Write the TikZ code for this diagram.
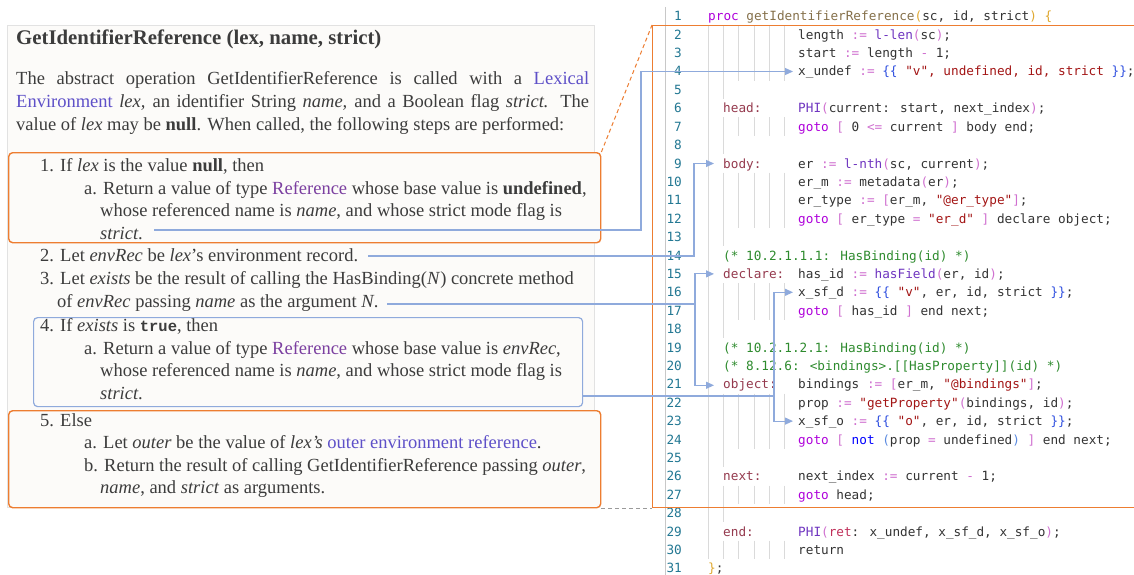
\documentclass[tikz,border=0pt]{standalone}
\usepackage{fontspec}
\setmainfont{Liberation Serif}
\setmonofont{Liberation Mono}
\newfontfamily\codefont{DejaVu Sans Mono}
\usetikzlibrary{arrows.meta}

% palette
\definecolor{txtc}{HTML}{3C3C3C}
\definecolor{linkc}{HTML}{5E50C8}
\definecolor{refc}{HTML}{7B3FA0}
\definecolor{orng}{HTML}{ED7D31}
\definecolor{bluel}{HTML}{8FAADC}
\definecolor{panelfill}{HTML}{FCFBF9}
\definecolor{panelline}{HTML}{E2E2E2}
\definecolor{gutter}{HTML}{C8C8C8}
\definecolor{guide}{HTML}{DADADA}
\definecolor{dashg}{HTML}{9A9A9A}
% code colours
\definecolor{cdef}{HTML}{333333}
\definecolor{lnc}{HTML}{237893}
\definecolor{ckw}{HTML}{AF00DB}
\definecolor{cop}{HTML}{D070D0}
\definecolor{cfn}{HTML}{6F35C0}
\definecolor{cst}{HTML}{A31515}
\definecolor{cbr}{HTML}{3050E0}
\definecolor{cgd}{HTML}{E0A830}
\definecolor{cnm}{HTML}{85704A}
\definecolor{clb}{HTML}{953A4E}
\definecolor{ccm}{HTML}{2E8B2E}
\definecolor{cbl}{HTML}{0000FF}
\definecolor{clbl}{HTML}{5A8AE0}
\definecolor{cret}{HTML}{C0305A}

\newcommand\ccKw[1]{\textcolor{ckw}{#1}}
\newcommand\ccOp[1]{\textcolor{cop}{#1}}
\newcommand\ccFn[1]{\textcolor{cfn}{#1}}
\newcommand\ccSt[1]{\textcolor{cst}{#1}}
\newcommand\ccBr[1]{\textcolor{cbr}{#1}}
\newcommand\ccGd[1]{\textcolor{cgd}{#1}}
\newcommand\ccNm[1]{\textcolor{cnm}{#1}}
\newcommand\ccBl[1]{\textcolor{cbl}{#1}}
\newcommand\ccLbl[1]{\textcolor{clbl}{#1}}
\newcommand\ccRt[1]{\textcolor{cret}{#1}}
\newcommand\monobold[1]{{\fontsize{15.5}{18}\selectfont\ttfamily\bfseries #1}}

% statement text of code line #1
\newcommand\codeln[2]{\node[code] (s#1) at (798,{20.8+(#1-1)*18.4}) {#2};}
% label / comment starting at the second column
\newcommand\codelab[2]{\node[code,text=clb] (lab#1) at (723,{20.8+(#1-1)*18.4}) {#2};}
\newcommand\codecmt[2]{\node[code,text=ccm] (cm#1) at (723,{20.8+(#1-1)*18.4}) {#2};}

\tikzset{
  txt/.style={anchor=base west, inner sep=0pt, text=txtc, font=\fontsize{18.5}{21}\selectfont},
  code/.style={anchor=base west, inner sep=0pt, text=cdef, font=\codefont\fontsize{12.7}{14}\selectfont},
  lno/.style={anchor=base east, inner sep=0pt, text=lnc, font=\codefont\fontsize{12.7}{14}\selectfont},
  panel/.style={draw=panelline, line width=0.8pt, fill=panelfill, inner sep=0pt, anchor=north west},
  obox/.style={draw=orng, line width=1.4pt, rounded corners=4pt, fill=panelfill, inner sep=0pt, anchor=north west},
  bbox/.style={draw=bluel, line width=1.2pt, rounded corners=4pt, fill=panelfill, inner sep=0pt, anchor=north west},
  codebox/.style={draw=orng, line width=1.4pt, inner sep=0pt, anchor=north west},
  conn/.style={draw=bluel, line width=1.1pt},
  arr/.style={conn, -{Triangle[length=8pt,width=7pt]}},
  guideline/.style={draw=guide, line width=0.8pt},
}

\begin{document}
\begin{tikzpicture}[x=1pt,y=-1pt]
\useasboundingbox (0,0) rectangle (1134,575);
\fill[white] (0,0) rectangle (1134,575);

% ---------- specification panel ----------
\node[panel, minimum width=587pt, minimum height=482pt] (pnl) at (7,25) {};
\node[obox, minimum width=592pt, minimum height=90pt] (b1) at (8,152) {};
\node[bbox, minimum width=549pt, minimum height=89pt] (b4) at (33,317) {};
\node[obox, minimum width=592pt, minimum height=97pt] (b5) at (8,410) {};

\node[txt, font=\fontsize{20.8}{24}\selectfont\bfseries] (title) at (16,44.5)
  {GetIdentifierReference (lex, name, strict)};
\node[txt] (p1) at (16,85) {\makebox[573pt][s]{The abstract operation GetIdentifierReference is called with a \textcolor{linkc}{Lexical}}};
\node[txt] (p2) at (16,108) {\makebox[573pt][s]{\textcolor{linkc}{Environment} \textit{lex,} an identifier String \textit{name,} and a Boolean flag \textit{strict.} The}};
\node[txt] (p3) at (16,130) {value of \textit{lex} may be \textbf{null}. When called, the following steps are performed:};

\node[txt] (i1)  at (40,171.5) {1. If \textit{lex} is the value \textbf{null}, then};
\node[txt] (i1a) at (84,194)   {a. Return a value of type \textcolor{refc}{Reference} whose base value is \textbf{undefined},};
\node[txt] (i1b) at (100,216.5){whose referenced name is \textit{name}, and whose strict mode flag is};
\node[txt] (i1c) at (100,239)  {\textit{strict}.};
\node[txt] (i2)  at (40,261.5) {2. Let \textit{envRec} be \textit{lex}'s environment record.};
\node[txt] (i3)  at (40,284.5) {3. Let \textit{exists} be the result of calling the HasBinding(\textit{N}) concrete method};
\node[txt] (i3b) at (57,307)   {of \textit{envRec} passing \textit{name} as the argument \textit{N}.};
\node[txt] (i4)  at (40,331.5) {4. If \textit{exists} is \monobold{true}, then};
\node[txt] (i4a) at (84,354)   {a. Return a value of type \textcolor{refc}{Reference} whose base value is \textit{envRec},};
\node[txt] (i4b) at (100,376.5){whose referenced name is \textit{name}, and whose strict mode flag is};
\node[txt] (i4c) at (100,399)  {\textit{strict}.};
\node[txt] (i5)  at (40,426)   {5. Else};
\node[txt] (i5a) at (84,448.5) {a. Let \textit{outer} be the value of \textit{lex's} \textcolor{linkc}{outer environment reference}.};
\node[txt] (i5b) at (84,471)   {b. Return the result of calling GetIdentifierReference passing \textit{outer},};
\node[txt] (i5c) at (100,493.5){\textit{name}, and \textit{strict} as arguments.};

% ---------- code listing ----------
\draw[draw=gutter, line width=0.8pt] (665,7) -- (665,575);
% indentation guides
\draw[guideline] (708,{16.3+18.4-9.2}) -- (708,{16.3+29*18.4+9.2});
\foreach \n in {2,3,4,7,10,11,12,16,17,22,23,24,27,30}{
  \foreach \gx in {723.3,738.6,753.9,769.2,784.5}
    \draw[guideline] (\gx,{16.3+(\n-1)*18.4-9.2}) -- (\gx,{16.3+(\n-1)*18.4+9.2});
}
\foreach \n in {5,8,13,18,25,28}
  \draw[guideline] (723.3,{16.3+(\n-1)*18.4-9.2}) -- (723.3,{16.3+(\n-1)*18.4+9.2});

\foreach \n in {1,...,31}
  \node[lno] (n\n) at (682,{20.8+(\n-1)*18.4}) {\n};

\node[code] (s1) at (708,20.8) {\ccKw{proc} \ccNm{getIdentifierReference}\ccGd{(}sc, id, strict\ccGd{)} \ccGd{\{}};
\codeln{2}{length \ccOp{:=} \ccFn{l-len}\ccOp{(}sc\ccOp{)};}
\codeln{3}{start \ccOp{:=} length \ccOp{-} 1;}
\codeln{4}{x\_undef \ccOp{:=} \ccBr{\{\{} \ccSt{"v", undefined, id, strict} \ccBr{\}\}};}
\codelab{6}{head:}
\codeln{6}{\ccFn{PHI}\ccOp{(}current: start, next\_index\ccOp{)};}
\codeln{7}{\ccKw{goto} \ccOp{[} 0 \ccOp{<=} current \ccOp{]} body end;}
\codelab{9}{body:}
\codeln{9}{er \ccOp{:=} \ccFn{l-nth}\ccOp{(}sc, current\ccOp{)};}
\codeln{10}{er\_m \ccOp{:=} metadata\ccOp{(}er\ccOp{)};}
\codeln{11}{er\_type \ccOp{:=} \ccOp{[}er\_m, \ccSt{"@er\_type"}\ccOp{]};}
\codeln{12}{\ccKw{goto} \ccOp{[} er\_type \ccOp{=} \ccSt{"er\_d"} \ccOp{]} declare object;}
\codecmt{14}{(* 10.2.1.1.1: HasBinding(id) *)}
\codelab{15}{declare:}
\codeln{15}{has\_id \ccOp{:=} \ccFn{hasField}\ccOp{(}er, id\ccOp{)};}
\codeln{16}{x\_sf\_d \ccOp{:=} \ccBr{\{\{} \ccSt{"v"}, er, id, strict \ccBr{\}\}};}
\codeln{17}{\ccKw{goto} \ccOp{[} has\_id \ccOp{]} end next;}
\codecmt{19}{(* 10.2.1.2.1: HasBinding(id) *)}
\codecmt{20}{(* 8.12.6: <bindings>.[[HasProperty]](id) *)}
\codelab{21}{object:}
\codeln{21}{bindings \ccOp{:=} \ccOp{[}er\_m, \ccSt{"@bindings"}\ccOp{]};}
\codeln{22}{prop \ccOp{:=} \ccSt{"getProperty"}\ccOp{(}bindings, id\ccOp{)};}
\codeln{23}{x\_sf\_o \ccOp{:=} \ccBr{\{\{} \ccSt{"o"}, er, id, strict \ccBr{\}\}};}
\codeln{24}{\ccKw{goto} \ccOp{[} \ccBl{not} \ccLbl{(}prop \ccOp{=} undefined\ccLbl{)} \ccOp{]} end next;}
\codelab{26}{next:}
\codeln{26}{next\_index \ccOp{:=} current \ccOp{-} 1;}
\codeln{27}{\ccKw{goto} head;}
\codelab{29}{end:}
\codeln{29}{\ccFn{PHI}\ccOp{(}\ccRt{ret}: x\_undef, x\_sf\_d, x\_sf\_o\ccOp{)};}
\codeln{30}{return}
\node[code] (s31) at (708,{20.8+30*18.4}) {\ccGd{\}};};

% loop body framed in the listing
\node[codebox, minimum width=490pt, minimum height=482pt] (cbox) at (652,25) {};
\draw[orng, line width=1pt, dash pattern=on 4pt off 3pt] (b1.north east) -- (cbox.north west);
\draw[dashg, line width=1pt, dash pattern=on 4pt off 3pt] (b5.south east) -- (cbox.south west);

% ---------- connectors from steps to code ----------
\coordinate (c1s) at (154,230);
\coordinate (c2s) at (368,256);
\coordinate (c3s) at (387,304);
\coordinate (c4s) at (b4.east |- 0,396);
\coordinate (k1) at (641,0);
\coordinate (k2) at (694,0);
\coordinate (k3) at (695,0);
\coordinate (k4) at (774,0);
\coordinate (t4)  at (793,{16.3+3*18.4});
\coordinate (t9)  at (714,{16.3+8*18.4});
\coordinate (t15) at (714,{16.3+14*18.4});
\coordinate (t16) at (793,{16.3+15*18.4});
\coordinate (t21) at (714,{16.3+20*18.4+1});
\coordinate (t23) at (793,{16.3+22*18.4});

\draw[arr] (c1s) -- (c1s -| k1) |- (t4);
\draw[arr] (c2s) -- (c2s -| k2) |- (t9);
\draw[arr] (c3s) -- (c3s -| k3) |- (t15);
\draw[arr] (c3s -| k3) |- (t21);
\draw[arr] (c4s) -- (c4s -| k4) |- (t16);
\draw[arr] (c4s -| k4) |- (t23);
\end{tikzpicture}
\end{document}
